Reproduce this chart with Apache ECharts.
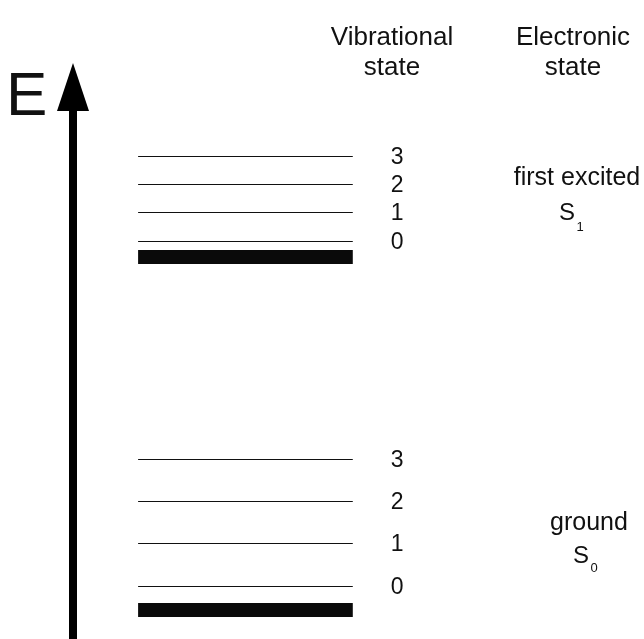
<!DOCTYPE html>
<html>
<head>
<meta charset="utf-8">
<script src="https://cdn.jsdelivr.net/npm/echarts@6/dist/echarts.min.js"></script>
<style>
html,body{margin:0;padding:0;background:#fff;}
#chart{width:644px;height:639px;}
</style>
</head>
<body>
<div id="chart"></div>
<script>
// Vibrational quantum numbers
const vibLabels = ['0', '1', '2', '3'];
// Energies (arbitrary units) of vibrational levels
const groundVibLevels = [2.4, 6.7, 10.9, 15.1];
const excitedVibLevels = [36.9, 39.8, 42.6, 45.4];
// Electronic state (thick bar) energies
const electronicNames = ['ground', 'first excited'];
const electronicSymbols = ['0', '1'];
const electronicLevels = [0, 35.3];
// Horizontal extent of level lines (arbitrary units)
const levelExtent = [11.4, 49.0];

const FONT = "'Liberation Sans', Arial, sans-serif";

function vibData(levels) {
  return levels.map((e, i) => ({
    name: vibLabels[i],
    coords: [[levelExtent[0], e], [levelExtent[1], e]]
  }));
}

const chart = echarts.init(document.getElementById('chart'), null, {renderer: 'canvas'});

const option = {
  animation: false,
  backgroundColor: '#ffffff',
  grid: {left: 73, right: 0, top: 87, bottom: 0},
  xAxis: {type: 'value', min: 0, max: 100, show: false},
  yAxis: {
    type: 'value', min: -2.9, max: 52.3,
    axisLine: {
      show: true, onZero: false,
      symbol: ['none', 'triangle'], symbolSize: [32, 48],
      lineStyle: {color: '#000', width: 8}
    },
    axisTick: {show: false},
    axisLabel: {show: false},
    splitLine: {show: false}
  },
  series: [
    {
      type: 'lines', coordinateSystem: 'cartesian2d', silent: true,
      data: vibData(groundVibLevels).concat(vibData(excitedVibLevels)),
      lineStyle: {color: '#111', width: 1, opacity: 1},
      label: {
        show: true, position: 'end', distance: 38, offset: [0, 2],
        formatter: p => p.name,
        color: '#111', fontSize: 23, fontFamily: FONT
      }
    },
    {
      type: 'lines', coordinateSystem: 'cartesian2d', silent: true,
      data: electronicLevels.map((e, i) => ({
        name: electronicNames[i],
        coords: [[levelExtent[0], e], [levelExtent[1], e]]
      })),
      lineStyle: {color: '#0a0a0a', width: 14, opacity: 1, cap: 'butt'}
    }
  ],
  graphic: [
    {type: 'text', x: 6, y: 98, style: {text: 'E', font: '62px ' + FONT, fill: '#111', align: 'left', verticalAlign: 'middle'}},
    {type: 'text', x: 392, y: 38, style: {text: 'Vibrational', font: '26px ' + FONT, fill: '#111', align: 'center', verticalAlign: 'middle'}},
    {type: 'text', x: 392, y: 68, style: {text: 'state', font: '26px ' + FONT, fill: '#111', align: 'center', verticalAlign: 'middle'}},
    {type: 'text', x: 573, y: 38, style: {text: 'Electronic', font: '26px ' + FONT, fill: '#111', align: 'center', verticalAlign: 'middle'}},
    {type: 'text', x: 573, y: 68, style: {text: 'state', font: '26px ' + FONT, fill: '#111', align: 'center', verticalAlign: 'middle'}},
    {type: 'text', x: 577, y: 178, style: {text: electronicNames[1], font: '25px ' + FONT, fill: '#111', align: 'center', verticalAlign: 'middle'}},
    {type: 'text', x: 567, y: 213.5, style: {text: 'S', font: '24px ' + FONT, fill: '#111', align: 'center', verticalAlign: 'middle'}},
    {type: 'text', x: 580, y: 227.5, style: {text: electronicSymbols[1], font: '13px ' + FONT, fill: '#111', align: 'center', verticalAlign: 'middle'}},
    {type: 'text', x: 589, y: 523, style: {text: electronicNames[0], font: '25px ' + FONT, fill: '#111', align: 'center', verticalAlign: 'middle'}},
    {type: 'text', x: 581, y: 556.5, style: {text: 'S', font: '24px ' + FONT, fill: '#111', align: 'center', verticalAlign: 'middle'}},
    {type: 'text', x: 594, y: 568.5, style: {text: electronicSymbols[0], font: '13px ' + FONT, fill: '#111', align: 'center', verticalAlign: 'middle'}}
  ]
};

chart.setOption(option);
</script>
</body>
</html>
